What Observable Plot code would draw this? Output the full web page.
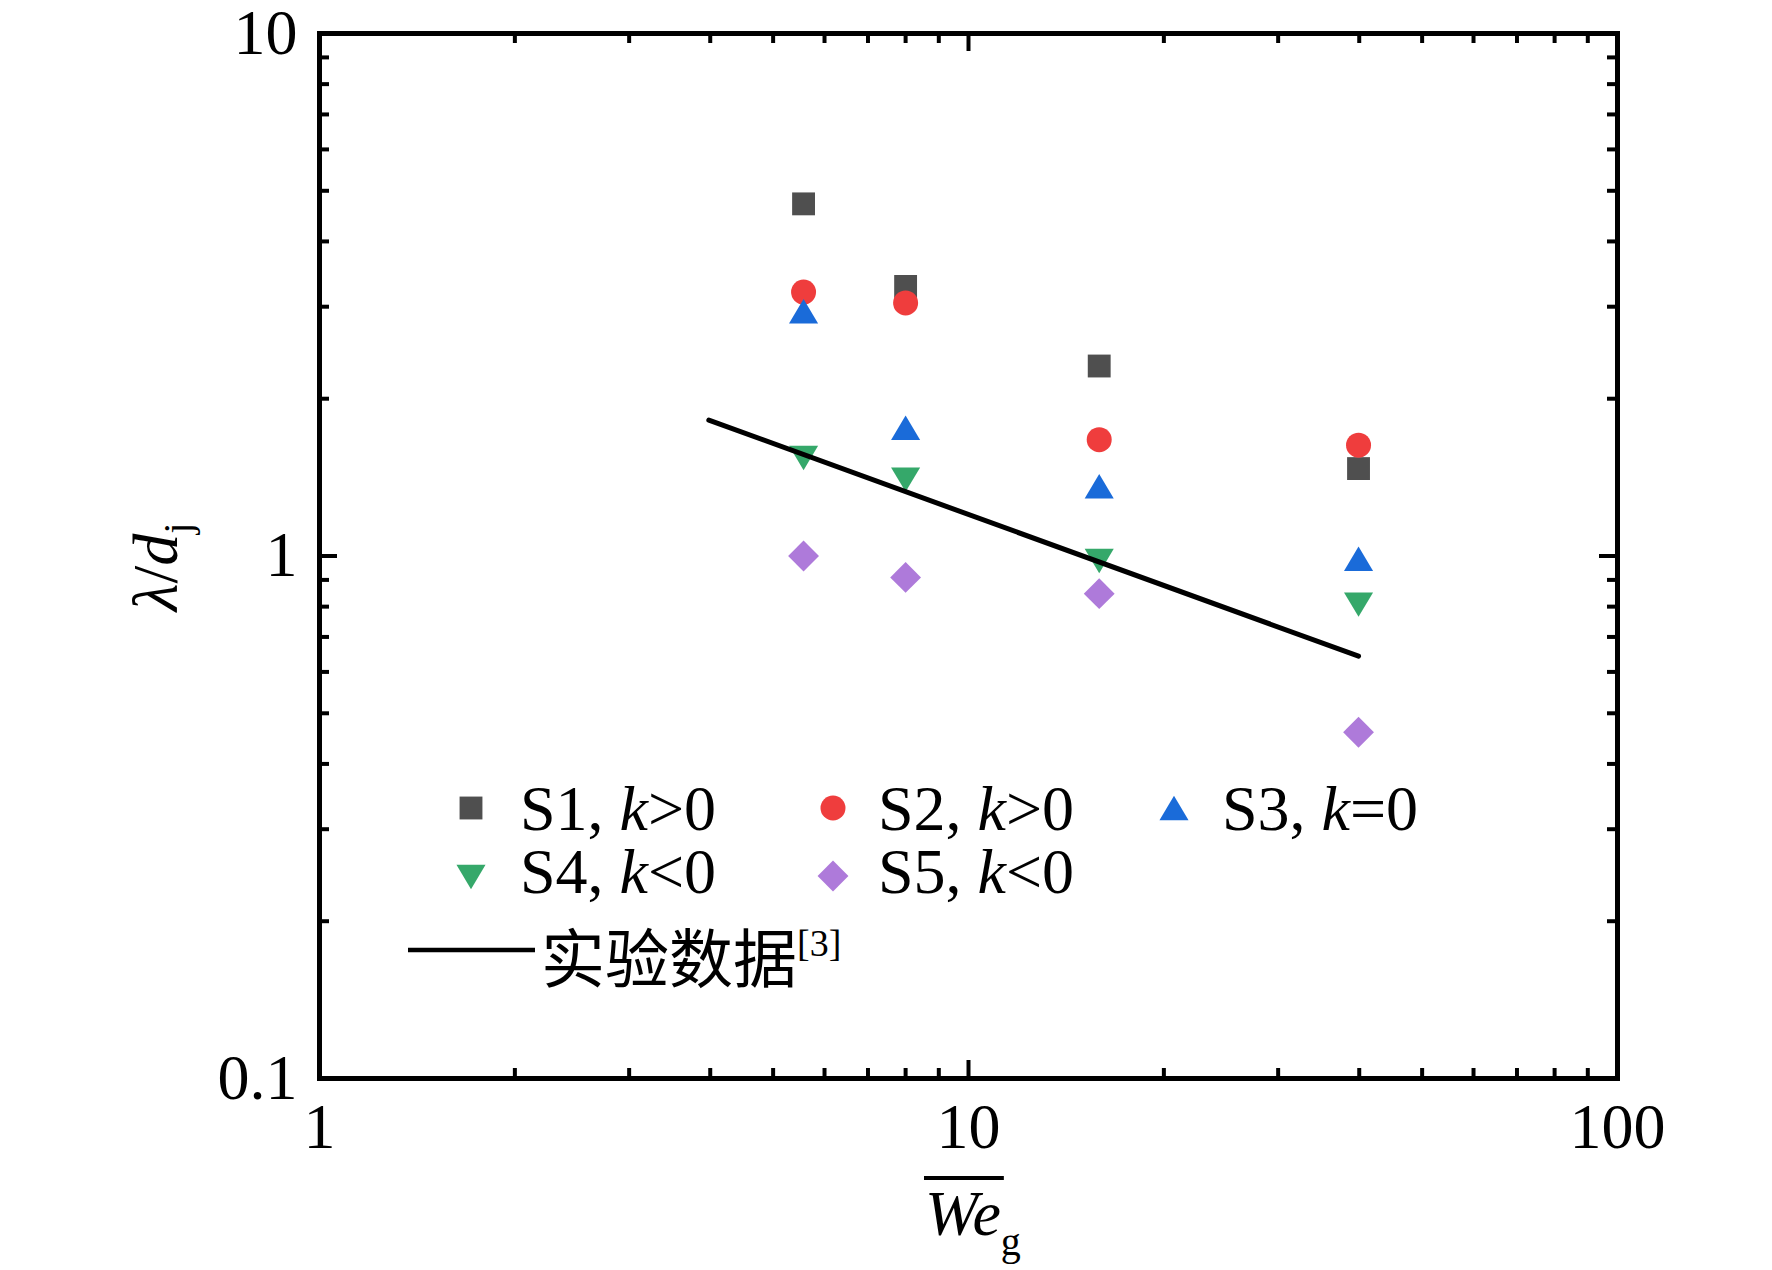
<!DOCTYPE html>
<html>
<head>
<meta charset="utf-8">
<script src="https://cdn.jsdelivr.net/npm/d3@7"></script>
<script src="https://cdn.jsdelivr.net/npm/@observablehq/plot@0.6"></script>
<style>
  html, body { margin: 0; padding: 0; background: #fff; }
  #chart { position: relative; width: 1772px; height: 1270px; }
</style>
</head>
<body>
<div id="chart"></div>
<script>
// ---------------- data ----------------
const weg = [5.57, 8.0, 15.9, 39.9];               // We_g (x)
const s1 = [4.72, 3.28, 2.31, 1.47];                // S1, k>0
const s2 = [3.20, 3.05, 1.67, 1.63];                // S2, k>0
const s3 = [2.94, 1.76, 1.36, 0.988];               // S3, k=0
const s4 = [1.54, 1.40, 0.978, 0.807];              // S4, k<0
const s5 = [1.00, 0.91, 0.847, 0.46];               // S5, k<0
const expWe = [3.98, 39.9];                          // experimental fit line
const expLambda = [1.82, 0.643];
const seriesNames = ["S1", "S2", "S3", "S4", "S5"];
const seriesRel = [">0", ">0", "=0", "<0", "<0"];
const lineLabel = "实验数据";
const lineRef = "[3]";
const xTickValues = [1, 10, 100];
const yTickValues = [0.1, 1, 10];
const xMinor = [2, 3, 4, 5, 6, 7, 8, 9, 20, 30, 40, 50, 60, 70, 80, 90];
const xMajor = [10];
const yMinor = [0.2, 0.3, 0.4, 0.5, 0.6, 0.7, 0.8, 0.9, 2, 3, 4, 5, 6, 7, 8, 9];
const yMajor = [1];
const colors = ["#4f4f4f", "#ef3d3d", "#1a6bd9", "#35a86a", "#ae7ada"];

// ---------------- symbols ----------------
const SQ3 = Math.sqrt(3);
const triUp = { draw(ctx, size) { const a = Math.sqrt(size / (3 * SQ3)); const h = 1.45 * a, w = SQ3 * a;
  ctx.moveTo(0, -h); ctx.lineTo(w, h); ctx.lineTo(-w, h); ctx.closePath(); } };
const triDown = { draw(ctx, size) { const a = Math.sqrt(size / (3 * SQ3)); const h = 1.45 * a, w = SQ3 * a;
  ctx.moveTo(0, h); ctx.lineTo(w, -h); ctx.lineTo(-w, -h); ctx.closePath(); } };
const diamond = { draw(ctx, size) { const d = Math.sqrt(size / 2);
  ctx.moveTo(0, -d); ctx.lineTo(d, 0); ctx.lineTo(0, d); ctx.lineTo(-d, 0); ctx.closePath(); } };
const symbols = [d3.symbolSquare, d3.symbolCircle, triUp, triDown, diamond];
const radii = [12.9, 12.5, 10.8, 10.8, 12.3];

const series = [s1, s2, s3, s4, s5];
const points = series.flatMap((vals, i) => vals.map((v, j) => ({x: weg[j], y: v, s: i})));
const expLine = expWe.map((x, i) => ({x, y: expLambda[i]}));

// ---------------- layout ----------------
const W = 1772, H = 1270;
const mL = 319, mR = 155, mT = 33, mB = 192;
const fw = W - mL - mR, fh = H - mT - mB;
const serif = "'Liberation Serif', 'Times New Roman', Times, serif";
const minorLen = 10, majorLen = 18, tickW = 4;

const tickMarks = [
  Plot.tickX(xMinor, {insetTop: fh - minorLen, stroke: "black", strokeWidth: tickW}),
  Plot.tickX(xMinor, {insetBottom: fh - minorLen, stroke: "black", strokeWidth: tickW}),
  Plot.tickX(xMajor, {insetTop: fh - majorLen, stroke: "black", strokeWidth: tickW}),
  Plot.tickX(xMajor, {insetBottom: fh - majorLen, stroke: "black", strokeWidth: tickW}),
  Plot.tickY(yMinor, {insetRight: fw - minorLen, stroke: "black", strokeWidth: tickW}),
  Plot.tickY(yMinor, {insetLeft: fw - minorLen, stroke: "black", strokeWidth: tickW}),
  Plot.tickY(yMajor, {insetRight: fw - majorLen, stroke: "black", strokeWidth: tickW}),
  Plot.tickY(yMajor, {insetLeft: fw - majorLen, stroke: "black", strokeWidth: tickW})
];

const dotMarks = series.map((_, i) => Plot.dot(points.filter(p => p.s === i), {
  x: "x", y: "y", symbol: symbols[i], r: radii[i], fill: colors[i], stroke: "none"
}));

const plot = Plot.plot({
  width: W, height: H,
  marginLeft: mL, marginRight: mR, marginTop: mT, marginBottom: mB,
  x: {type: "log", domain: [1, 100]},
  y: {type: "log", domain: [0.1, 10]},
  style: {fontFamily: serif, fontSize: "64px", color: "black", background: "white", overflow: "visible"},
  marks: [
    Plot.axisX(xTickValues, {tickSize: 0, tickPadding: 24, tickFormat: d => String(d), label: null, fontSize: 64}),
    Plot.axisY(yTickValues, {tickSize: 0, tickPadding: 22, tickFormat: d => String(d), label: null, fontSize: 64}),
    ...tickMarks,
    ...dotMarks,
    Plot.line(expLine, {x: "x", y: "y", stroke: "black", strokeWidth: 5}),
    Plot.frame({stroke: "black", strokeWidth: 5})
  ]
});
document.getElementById("chart").appendChild(plot);

// ---------------- axis titles ----------------
const svg = d3.select(plot);
const xt = svg.append("text").attr("x", 925).attr("y", 1235).attr("text-anchor", "start")
  .attr("font-family", serif).attr("font-size", 64).attr("fill", "black");
const weSpan = xt.append("tspan").attr("font-style", "italic").text("We");
xt.append("tspan").attr("font-size", 40).attr("dy", 20).text("g");
const weLen = weSpan.node().getComputedTextLength();
svg.append("line").attr("x1", 924).attr("x2", 924 + weLen + 4).attr("y1", 1178).attr("y2", 1178)
  .attr("stroke", "black").attr("stroke-width", 4);

const yt = svg.append("text").attr("transform", "translate(177,567) rotate(-90)")
  .attr("text-anchor", "middle").attr("font-family", serif).attr("font-size", 64).attr("fill", "black");
yt.append("tspan").attr("font-style", "italic").text("λ");
yt.append("tspan").text("/");
yt.append("tspan").attr("font-style", "italic").text("d");
yt.append("tspan").attr("font-size", 40).attr("dy", 14).text("j");

// ---------------- legend ----------------
const legendPos = [
  {mx: 471, my: 808, tx: 520, ty: 830},
  {mx: 833, my: 808, tx: 878, ty: 830},
  {mx: 1174, my: 808, tx: 1222, ty: 830},
  {mx: 471, my: 877, tx: 520, ty: 893},
  {mx: 833, my: 876, tx: 878, ty: 893}
];
const lg = svg.append("g").attr("text-anchor", "start");
seriesNames.forEach((name, i) => {
  const p = legendPos[i];
  lg.append("path").attr("d", d3.symbol(symbols[i], radii[i] * radii[i] * Math.PI)())
    .attr("transform", `translate(${p.mx},${p.my})`).attr("fill", colors[i]);
  const t = lg.append("text").attr("x", p.tx).attr("y", p.ty).attr("text-anchor", "start")
    .attr("font-family", serif).attr("font-size", 64).attr("fill", "black");
  t.append("tspan").text(name + ", ");
  t.append("tspan").attr("font-style", "italic").text("k");
  t.append("tspan").text(seriesRel[i]);
});
lg.append("line").attr("x1", 408).attr("x2", 535).attr("y1", 950).attr("y2", 950)
  .attr("stroke", "black").attr("stroke-width", 4.5);
const ct = lg.append("text").attr("x", 541).attr("y", 982).attr("text-anchor", "start")
  .attr("font-family", "'Noto Sans CJK SC', sans-serif").attr("font-size", 64).attr("fill", "black");
ct.append("tspan").text(lineLabel);
ct.append("tspan").attr("font-family", serif).attr("font-size", 38).attr("dy", -26).text(lineRef);
</script>
</body>
</html>
